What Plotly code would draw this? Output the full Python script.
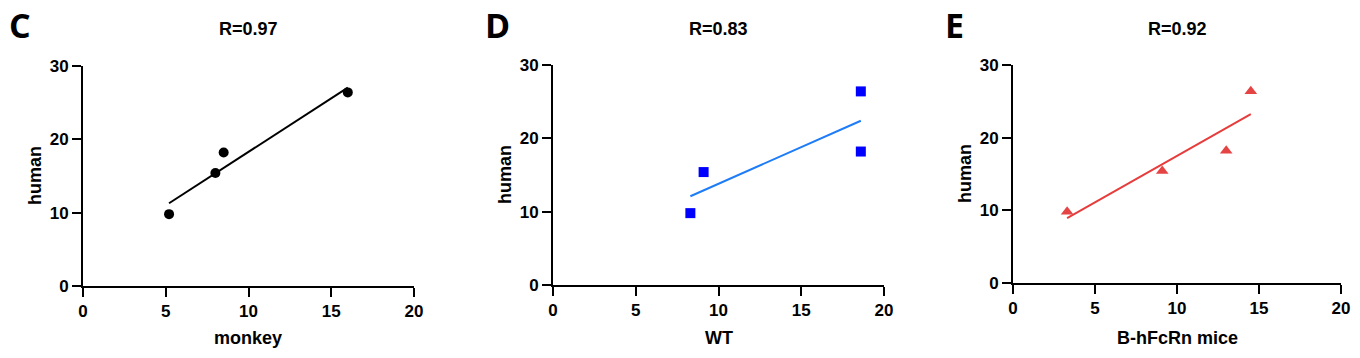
import numpy as np
import plotly.graph_objects as go

# ---- data ----
human = [9.8, 15.4, 18.2, 26.4]
monkey = [5.2, 8.0, 8.5, 16.0]
wt = [8.3, 9.1, 18.6, 18.6]
bhfcrn = [3.3, 9.1, 13.0, 14.5]
r_labels = ["R=0.97", "R=0.83", "R=0.92"]
panel_letters = ["C", "D", "E"]
x_titles = ["monkey", "WT", "B-hFcRn mice"]
x_ticks = [0, 5, 10, 15, 20]
y_ticks = [0, 10, 20, 30]

W, H = 1360, 358
FONT = "Liberation Sans, Arial, sans-serif"

panels = [
    dict(x=monkey, sym="circle", mcol="#000000", lcol="#000000", px=(83, 414), py=(66, 286)),
    dict(x=wt, sym="square", mcol="#0000FF", lcol="#1E7CF8", px=(553, 884), py=(65, 285)),
    dict(x=bhfcrn, sym="triangle-up", mcol="#E54444", lcol="#E63C3C", px=(1013, 1341), py=(65, 283)),
]

fig = go.Figure()
annotations = []
for i, p in enumerate(panels):
    n = "" if i == 0 else str(i + 1)
    xa, ya = "x" + n, "y" + n
    xs = np.array(p["x"], dtype=float)
    ys = np.array(human, dtype=float)
    slope, icpt = np.polyfit(xs, ys, 1)
    fx = np.array([xs.min(), xs.max()])
    fig.add_trace(go.Scatter(x=fx, y=slope * fx + icpt, mode="lines",
                             line=dict(color=p["lcol"], width=2),
                             xaxis=xa, yaxis=ya, showlegend=False))
    fig.add_trace(go.Scatter(x=xs, y=ys, mode="markers",
                             marker=dict(symbol=p["sym"], color=p["mcol"],
                                         size=11 if p["sym"] == "triangle-up" else 10,
                                         line=dict(width=0)),
                             xaxis=xa, yaxis=ya, showlegend=False, cliponaxis=False))
    x0, x1 = p["px"]
    y0, y1 = p["py"]
    dx = [x0 / W, x1 / W]
    dy = [1 - y1 / H, 1 - y0 / H]
    axis_common = dict(showgrid=False, zeroline=False, showline=True, linecolor="black",
                       linewidth=2, ticks="outside", ticklen=9, tickwidth=2, tickcolor="black",
                       tickfont=dict(family=FONT, size=17, color="black", weight="bold"),
                       fixedrange=True, automargin=False)
    fig.layout["xaxis" + n] = dict(domain=dx, range=[0, 20], tickvals=x_ticks,
                                   anchor=ya, **axis_common)
    fig.layout["yaxis" + n] = dict(domain=dy, range=[0, 30], tickvals=y_ticks,
                                   anchor=xa, **axis_common)
    cx = (x0 + x1) / 2
    cy = (y0 + y1) / 2
    # title
    annotations.append(dict(text=r_labels[i], x=cx / W, y=1 - 29 / H, xref="paper", yref="paper",
                            showarrow=False, xanchor="center", yanchor="middle",
                            font=dict(family=FONT, size=18, color="black", weight="bold")))
    # x title
    annotations.append(dict(text=x_titles[i], x=cx / W, y=1 - 338 / H, xref="paper", yref="paper",
                            showarrow=False, xanchor="center", yanchor="middle",
                            font=dict(family=FONT, size=18, color="black", weight="bold")))
    # y title
    annotations.append(dict(text="human", x=(x0 - 48) / W, y=1 - cy / H, xref="paper", yref="paper",
                            showarrow=False, xanchor="center", yanchor="middle", textangle=-90,
                            font=dict(family=FONT, size=18, color="black", weight="bold")))
    # panel letter
    lx = [20, 498, 955][i]
    annotations.append(dict(text=panel_letters[i], x=lx / W, y=1 - 25 / H, xref="paper", yref="paper",
                            showarrow=False, xanchor="center", yanchor="middle",
                            font=dict(family="Open Sans, Noto Sans, sans-serif", size=34,
                                      color="black", weight="bold")))

fig.update_layout(width=W, height=H, margin=dict(l=0, r=0, t=0, b=0),
                  paper_bgcolor="white", plot_bgcolor="white", template="none",
                  annotations=annotations, showlegend=False)

fig.write_html("out.html", config={"displayModeBar": False},
               post_script="document.body.style.margin='0';document.body.style.overflow='hidden';")
